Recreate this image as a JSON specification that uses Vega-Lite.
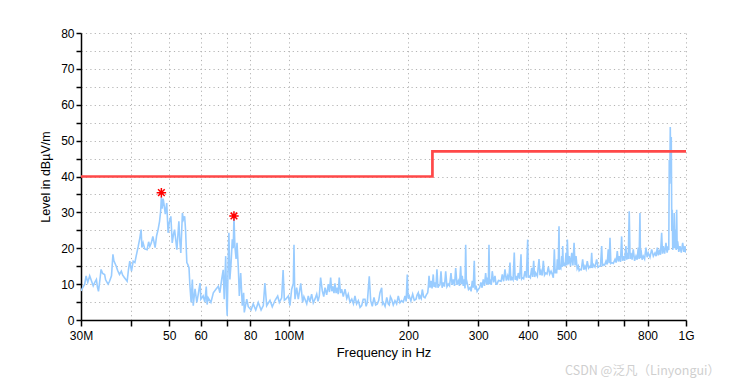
{
  "$schema": "https://vega.github.io/schema/vega-lite/v6.json",
  "width": 605,
  "height": 287,
  "autosize": {"type": "none"},
  "padding": {"left": 81, "top": 33, "right": 48, "bottom": 64},
  "background": "white",
  "config": {
    "view": {"stroke": null},
    "font": "Liberation Sans",
    "axis": {
      "domainColor": "black", "domainWidth": 1.5, "tickColor": "black", "tickWidth": 1.5,
      "labelColor": "black", "labelFontSize": 12, "titleColor": "black", "titleFontWeight": "normal",
      "grid": true, "gridColor": "#b4b4b4", "gridDash": [1.2, 3.2], "gridWidth": 1,
      "labelOverlap": false, "labelFlush": false
    }
  },
  "title": {
    "text": "CSDN @泛凡（Linyongui）", "orient": "bottom", "anchor": "end", "fontSize": 12.5,
    "font": "Noto Sans CJK SC", "fontWeight": "normal", "color": "#cfcfcf", "dx": 26, "offset": 6
  },
  "datasets": {
    "trace": [
      {"f":30.0,"v":8.1},{"f":30.3,"v":9.0},{"f":30.65,"v":10.0},{"f":30.9,"v":12.3},{"f":31.2,"v":10.5},{"f":31.55,"v":12.3},{"f":31.9,"v":10.8},{"f":32.2,"v":9.5},{"f":32.5,"v":10.5},{"f":32.8,"v":11.3},{"f":33.0,"v":9.2},{"f":33.2,"v":8.0},{"f":33.5,"v":11.5},{"f":33.7,"v":14.1},{"f":34.0,"v":13.0},{"f":34.4,"v":12.7},{"f":34.6,"v":11.2},{"f":35.1,"v":10.0},{"f":35.4,"v":10.8},{"f":35.8,"v":12.3},{"f":36.1,"v":18.3},{"f":36.3,"v":16.5},{"f":36.8,"v":15.0},{"f":37.1,"v":13.8},{"f":37.5,"v":12.7},{"f":37.9,"v":13.6},{"f":38.2,"v":12.5},{"f":38.6,"v":11.8},{"f":39.2,"v":10.8},{"f":39.5,"v":14.0},{"f":39.8,"v":16.4},{"f":40.2,"v":13.6},{"f":40.6,"v":16.4},{"f":41.0,"v":16.0},{"f":41.3,"v":17.8},{"f":41.8,"v":20.5},{"f":42.2,"v":22.9},{"f":42.5,"v":25.2},{"f":42.7,"v":20.2},{"f":43.0,"v":21.5},{"f":43.4,"v":19.8},{"f":44.0,"v":19.6},{"f":44.4,"v":21.8},{"f":44.7,"v":20.5},{"f":45.1,"v":21.5},{"f":45.5,"v":23.3},{"f":46.1,"v":20.2},{"f":46.5,"v":23.5},{"f":46.9,"v":25.2},{"f":47.3,"v":27.5},{"f":47.6,"v":30.3},{"f":47.8,"v":34.3},{"f":48.0,"v":31.0},{"f":48.3,"v":33.8},{"f":48.5,"v":32.5},{"f":48.9,"v":29.5},{"f":49.3,"v":32.6},{"f":49.7,"v":24.3},{"f":50.0,"v":27.0},{"f":50.5,"v":28.9},{"f":50.9,"v":21.5},{"f":51.3,"v":24.0},{"f":51.6,"v":25.2},{"f":52.0,"v":22.0},{"f":52.3,"v":19.6},{"f":52.9,"v":27.5},{"f":53.2,"v":22.0},{"f":53.5,"v":18.7},{"f":54.0,"v":29.8},{"f":54.3,"v":28.0},{"f":54.7,"v":28.9},{"f":55.0,"v":25.0},{"f":55.4,"v":16.0},{"f":55.7,"v":15.5},{"f":56.1,"v":14.6},{"f":56.4,"v":9.5},{"f":56.8,"v":4.9},{"f":57.2,"v":11.3},{"f":57.5,"v":4.0},{"f":58.1,"v":8.7},{"f":58.7,"v":4.9},{"f":59.2,"v":7.2},{"f":59.8,"v":10.3},{"f":60.1,"v":5.8},{"f":60.9,"v":6.7},{"f":61.5,"v":5.0},{"f":62.0,"v":9.3},{"f":62.3,"v":4.3},{"f":62.7,"v":6.2},{"f":63.7,"v":4.9},{"f":64.6,"v":7.6},{"f":65.5,"v":8.5},{"f":66.5,"v":9.4},{"f":67.1,"v":7.6},{"f":67.8,"v":11.3},{"f":68.4,"v":14.0},{"f":68.8,"v":5.8},{"f":69.4,"v":17.8},{"f":69.8,"v":4.0},{"f":70.0,"v":1.2},{"f":70.5,"v":19.2},{"f":70.7,"v":24.3},{"f":71.1,"v":11.3},{"f":71.6,"v":16.0},{"f":72.1,"v":22.5},{"f":72.5,"v":20.0},{"f":72.8,"v":28.9},{"f":73.2,"v":20.6},{"f":73.7,"v":17.0},{"f":74.1,"v":21.5},{"f":74.7,"v":14.0},{"f":75.1,"v":6.7},{"f":75.7,"v":13.1},{"f":76.4,"v":4.0},{"f":77.0,"v":7.6},{"f":77.3,"v":2.1},{"f":78.4,"v":5.8},{"f":79.1,"v":3.7},{"f":80.4,"v":2.8},{"f":81.4,"v":4.5},{"f":82.6,"v":2.8},{"f":83.8,"v":4.9},{"f":85.2,"v":2.8},{"f":86.3,"v":4.0},{"f":87.1,"v":10.3},{"f":88.0,"v":4.0},{"f":89.7,"v":5.5},{"f":90.9,"v":3.7},{"f":92.4,"v":5.5},{"f":93.8,"v":6.7},{"f":94.7,"v":4.9},{"f":96.0,"v":6.2},{"f":96.8,"v":13.9},{"f":97.5,"v":5.5},{"f":98.3,"v":5.8},{"f":99.8,"v":6.7},{"f":100.7,"v":4.0},{"f":101.7,"v":8.5},{"f":102.7,"v":10.2},{"f":103.1,"v":21.0},{"f":103.5,"v":8.0},{"f":103.7,"v":5.8},{"f":104.7,"v":9.0},{"f":105.7,"v":5.8},{"f":107.2,"v":10.2},{"f":108.4,"v":4.9},{"f":109.2,"v":6.5},{"f":109.9,"v":5.8},{"f":111.0,"v":4.5},{"f":112.0,"v":6.7},{"f":113.0,"v":5.0},{"f":114.2,"v":7.2},{"f":115.3,"v":4.8},{"f":116.4,"v":5.8},{"f":117.6,"v":7.2},{"f":118.5,"v":5.2},{"f":119.4,"v":6.7},{"f":120.3,"v":11.8},{"f":121.5,"v":8.1},{"f":122.5,"v":6.5},{"f":123.4,"v":9.0},{"f":124.6,"v":7.0},{"f":125.8,"v":10.0},{"f":126.6,"v":7.8},{"f":127.5,"v":11.8},{"f":128.3,"v":8.0},{"f":129.0,"v":9.4},{"f":130.0,"v":7.5},{"f":130.7,"v":10.2},{"f":131.6,"v":7.5},{"f":132.5,"v":9.0},{"f":133.2,"v":7.2},{"f":134.0,"v":11.8},{"f":135.0,"v":7.5},{"f":135.9,"v":8.6},{"f":137.2,"v":6.5},{"f":138.6,"v":8.6},{"f":140.0,"v":6.0},{"f":141.2,"v":7.2},{"f":142.6,"v":5.0},{"f":144.1,"v":5.8},{"f":145.5,"v":4.5},{"f":146.8,"v":6.7},{"f":148.2,"v":4.5},{"f":149.7,"v":5.4},{"f":151.2,"v":3.5},{"f":152.6,"v":4.0},{"f":154.0,"v":5.8},{"f":155.6,"v":5.8},{"f":156.6,"v":3.8},{"f":157.7,"v":4.9},{"f":159.5,"v":12.2},{"f":160.8,"v":5.4},{"f":162.3,"v":3.8},{"f":163.9,"v":6.3},{"f":165.5,"v":4.2},{"f":167.1,"v":4.5},{"f":168.5,"v":5.5},{"f":169.7,"v":7.6},{"f":171.4,"v":9.0},{"f":172.2,"v":4.5},{"f":173.0,"v":4.9},{"f":174.8,"v":3.8},{"f":176.5,"v":6.3},{"f":178.0,"v":4.5},{"f":179.1,"v":4.2},{"f":180.3,"v":6.5},{"f":181.6,"v":5.8},{"f":183.3,"v":4.2},{"f":185.1,"v":5.4},{"f":186.9,"v":4.5},{"f":188.7,"v":6.7},{"f":190.5,"v":4.8},{"f":192.4,"v":5.4},{"f":194.3,"v":5.0},{"f":196.2,"v":6.7},{"f":197.5,"v":5.2},{"f":198.8,"v":12.7},{"f":199.8,"v":6.0},{"f":201.1,"v":6.7},{"f":203.0,"v":5.3},{"f":205.1,"v":7.2},{"f":207.0,"v":5.5},{"f":209.1,"v":5.8},{"f":210.5,"v":7.0},{"f":211.9,"v":7.6},{"f":213.0,"v":5.8},{"f":214.0,"v":6.7},{"f":215.5,"v":6.0},{"f":216.9,"v":8.5},{"f":218.5,"v":6.5},{"f":220.3,"v":6.2},{"f":222.0,"v":7.0},{"f":223.8,"v":7.6},{"f":224.7,"v":9.5},{"f":225.5,"v":12.3},{"f":226.8,"v":9.0},{"f":228.1,"v":10.9},{"f":229.5,"v":8.8},{"f":231.1,"v":12.7},{"f":232.2,"v":9.2},{"f":233.4,"v":10.5},{"f":234.7,"v":9.0},{"f":236.1,"v":14.1},{"f":237.5,"v":9.0},{"f":238.9,"v":9.6},{"f":240.3,"v":9.8},{"f":241.7,"v":13.6},{"f":243.3,"v":9.0},{"f":244.9,"v":10.5},{"f":246.6,"v":9.3},{"f":248.4,"v":13.6},{"f":250.2,"v":9.3},{"f":252.1,"v":10.0},{"f":254.0,"v":9.5},{"f":256.1,"v":13.1},{"f":257.8,"v":9.8},{"f":259.6,"v":11.3},{"f":261.4,"v":9.5},{"f":263.2,"v":14.5},{"f":265.2,"v":9.8},{"f":267.2,"v":10.9},{"f":269.0,"v":9.5},{"f":270.9,"v":15.0},{"f":272.1,"v":10.0},{"f":273.4,"v":12.3},{"f":275.0,"v":9.5},{"f":276.7,"v":11.3},{"f":277.8,"v":8.8},{"f":278.9,"v":21.0},{"f":280.0,"v":10.0},{"f":281.0,"v":10.5},{"f":283.5,"v":8.5},{"f":285.9,"v":9.0},{"f":287.8,"v":8.0},{"f":289.8,"v":10.9},{"f":291.4,"v":9.0},{"f":293.1,"v":16.5},{"f":294.5,"v":8.5},{"f":296.0,"v":9.6},{"f":298.0,"v":8.0},{"f":300.0,"v":8.5},{"f":302.3,"v":9.0},{"f":304.7,"v":10.5},{"f":306.7,"v":9.0},{"f":308.8,"v":11.3},{"f":311.0,"v":9.5},{"f":313.1,"v":13.1},{"f":315.0,"v":10.0},{"f":316.8,"v":11.8},{"f":318.0,"v":9.8},{"f":319.2,"v":21.0},{"f":320.4,"v":10.0},{"f":321.6,"v":11.3},{"f":323.5,"v":9.8},{"f":325.3,"v":13.6},{"f":328.0,"v":10.5},{"f":330.5,"v":12.3},{"f":332.5,"v":10.0},{"f":334.4,"v":10.0},{"f":337.3,"v":11.0},{"f":340.2,"v":10.9},{"f":342.5,"v":10.8},{"f":344.8,"v":12.7},{"f":347.5,"v":10.8},{"f":350.2,"v":14.1},{"f":353.0,"v":11.0},{"f":355.7,"v":12.3},{"f":358.0,"v":11.0},{"f":360.5,"v":16.0},{"f":362.3,"v":11.0},{"f":364.1,"v":11.8},{"f":367.0,"v":11.2},{"f":369.6,"v":18.8},{"f":371.5,"v":11.2},{"f":373.3,"v":12.3},{"f":375.8,"v":11.0},{"f":378.3,"v":13.1},{"f":381.3,"v":11.5},{"f":384.3,"v":18.3},{"f":385.8,"v":11.5},{"f":387.2,"v":11.8},{"f":390.2,"v":11.5},{"f":393.3,"v":13.6},{"f":396.4,"v":11.8},{"f":399.5,"v":22.4},{"f":401.0,"v":11.8},{"f":402.5,"v":12.3},{"f":405.7,"v":11.8},{"f":408.9,"v":14.5},{"f":411.2,"v":12.0},{"f":413.6,"v":16.5},{"f":416.0,"v":12.0},{"f":418.5,"v":13.1},{"f":422.5,"v":12.2},{"f":426.6,"v":17.0},{"f":429.0,"v":12.5},{"f":431.6,"v":13.6},{"f":434.5,"v":12.4},{"f":437.4,"v":16.5},{"f":440.4,"v":12.5},{"f":443.5,"v":13.1},{"f":446.8,"v":12.8},{"f":450.2,"v":14.8},{"f":453.8,"v":12.8},{"f":457.4,"v":13.6},{"f":460.5,"v":12.8},{"f":463.5,"v":11.8},{"f":466.2,"v":19.7},{"f":468.5,"v":13.0},{"f":470.8,"v":14.1},{"f":472.5,"v":13.0},{"f":474.3,"v":16.9},{"f":476.6,"v":14.0},{"f":479.0,"v":26.1},{"f":480.4,"v":14.0},{"f":481.8,"v":15.0},{"f":484.2,"v":14.5},{"f":486.6,"v":17.8},{"f":488.0,"v":14.8},{"f":489.4,"v":20.6},{"f":491.2,"v":15.0},{"f":493.1,"v":16.0},{"f":496.0,"v":15.0},{"f":498.9,"v":18.7},{"f":500.8,"v":15.2},{"f":502.7,"v":22.4},{"f":505.6,"v":15.5},{"f":508.6,"v":17.8},{"f":512.1,"v":15.0},{"f":515.7,"v":18.7},{"f":519.2,"v":15.2},{"f":522.7,"v":21.5},{"f":525.7,"v":15.2},{"f":528.7,"v":17.8},{"f":532.2,"v":14.3},{"f":535.8,"v":15.0},{"f":538.3,"v":13.8},{"f":540.9,"v":14.1},{"f":545.1,"v":14.0},{"f":549.4,"v":16.9},{"f":553.1,"v":14.0},{"f":556.8,"v":15.0},{"f":560.5,"v":14.2},{"f":564.2,"v":16.4},{"f":568.7,"v":14.5},{"f":573.2,"v":15.0},{"f":576.0,"v":14.5},{"f":578.9,"v":18.7},{"f":581.6,"v":14.5},{"f":584.3,"v":15.5},{"f":590.0,"v":14.8},{"f":595.8,"v":16.9},{"f":600.4,"v":14.7},{"f":605.0,"v":15.0},{"f":609.2,"v":15.0},{"f":613.4,"v":20.6},{"f":616.2,"v":15.0},{"f":619.1,"v":15.5},{"f":624.0,"v":15.3},{"f":628.9,"v":16.4},{"f":633.1,"v":15.5},{"f":637.3,"v":19.7},{"f":640.5,"v":15.8},{"f":643.7,"v":22.9},{"f":646.9,"v":15.8},{"f":650.1,"v":16.0},{"f":656.3,"v":15.8},{"f":662.6,"v":16.9},{"f":667.0,"v":16.0},{"f":671.5,"v":19.2},{"f":675.4,"v":16.3},{"f":679.3,"v":17.8},{"f":684.0,"v":16.2},{"f":688.7,"v":23.3},{"f":692.0,"v":16.5},{"f":695.2,"v":17.8},{"f":700.6,"v":16.5},{"f":706.0,"v":20.6},{"f":708.7,"v":16.8},{"f":711.4,"v":18.7},{"f":715.5,"v":17.0},{"f":719.6,"v":30.3},{"f":723.2,"v":17.0},{"f":726.8,"v":18.7},{"f":731.7,"v":16.8},{"f":736.6,"v":19.7},{"f":742.4,"v":16.5},{"f":748.2,"v":17.8},{"f":753.2,"v":16.8},{"f":758.3,"v":20.2},{"f":762.0,"v":17.0},{"f":765.8,"v":29.8},{"f":768.0,"v":17.2},{"f":770.2,"v":19.7},{"f":775.4,"v":16.8},{"f":780.6,"v":17.8},{"f":786.7,"v":17.0},{"f":792.9,"v":20.2},{"f":798.2,"v":17.5},{"f":803.6,"v":18.7},{"f":811.6,"v":17.5},{"f":819.6,"v":19.7},{"f":827.5,"v":17.8},{"f":835.4,"v":18.7},{"f":841.0,"v":17.8},{"f":846.7,"v":20.2},{"f":851.6,"v":18.0},{"f":856.5,"v":19.2},{"f":862.4,"v":18.2},{"f":868.4,"v":24.3},{"f":872.5,"v":18.5},{"f":876.6,"v":20.6},{"f":883.4,"v":18.5},{"f":890.3,"v":21.5},{"f":896.3,"v":18.8},{"f":902.3,"v":20.6},{"f":905.0,"v":19.5},{"f":907.5,"v":44.6},{"f":910.2,"v":38.0},{"f":912.9,"v":53.8},{"f":915.5,"v":42.0},{"f":918.2,"v":51.0},{"f":921.0,"v":25.0},{"f":923.5,"v":30.7},{"f":926.0,"v":19.5},{"f":928.9,"v":21.5},{"f":931.5,"v":20.0},{"f":934.2,"v":29.8},{"f":938.0,"v":20.0},{"f":942.0,"v":25.2},{"f":944.7,"v":19.5},{"f":947.4,"v":30.7},{"f":950.0,"v":19.8},{"f":952.9,"v":21.9},{"f":959.0,"v":19.0},{"f":965.7,"v":20.6},{"f":973.0,"v":18.8},{"f":981.0,"v":21.5},{"f":987.5,"v":19.0},{"f":994.2,"v":20.6},{"f":997.0,"v":18.8},{"f":1000,"v":19.7}
    ],
    "limit": [
      {"f": 30, "v": 40}, {"f": 230, "v": 40}, {"f": 230, "v": 47}, {"f": 1000, "v": 47}
    ],
    "peaks": [
      {"f": 47.8, "v": 35.5}, {"f": 72.8, "v": 29.0}
    ]
  },
  "encoding": {
    "x": {
      "field": "f", "type": "quantitative",
      "scale": {"type": "log", "domain": [30, 1000], "nice": false},
      "axis": {
        "title": "Frequency in Hz", "titleFontSize": 13, "titlePadding": 5,
        "values": [30, 40, 50, 60, 70, 80, 100, 200, 300, 400, 500, 600, 700, 800, 1000],
        "labelExpr": "datum.value == 30 ? '30M' : datum.value == 100 ? '100M' : datum.value == 1000 ? '1G' : (datum.value == 40 || datum.value == 70 || datum.value == 600 || datum.value == 700) ? '' : format(datum.value, 'd')",
        "tickSize": 6, "labelPadding": 4, "labelOverlap": false, "labelFlush": false
      }
    },
    "y": {
      "field": "v", "type": "quantitative",
      "scale": {"type": "linear", "domain": [0, 80], "nice": false, "zero": true},
      "axis": {
        "title": "Level in dBµV/m", "titleFontSize": 12.5, "titlePadding": 8,
        "values": [0, 5, 10, 15, 20, 25, 30, 35, 40, 45, 50, 55, 60, 65, 70, 75, 80],
        "labelExpr": "(round(datum.value) % 10 == 0) ? format(datum.value, 'd') : ''",
        "tickSize": 5, "labelPadding": 2, "labelOverlap": false, "labelSeparation": 0, "labelBound": false
      }
    }
  },
  "layer": [
    {
      "data": {"name": "trace"},
      "mark": {"type": "line", "color": "#99CCFF", "strokeWidth": 1.6, "clip": true}
    },
    {
      "data": {"name": "limit"},
      "mark": {"type": "line", "color": "#FF4848", "strokeWidth": 2.7}
    },
    {
      "data": {"name": "peaks"},
      "mark": {
        "type": "point", "filled": false, "stroke": "#FF0000", "strokeWidth": 1.5, "size": 90, "opacity": 1,
        "shape": "M0,-1L0,1M-1,0L1,0M-0.7,-0.7L0.7,0.7M-0.7,0.7L0.7,-0.7"
      }
    }
  ]
}
